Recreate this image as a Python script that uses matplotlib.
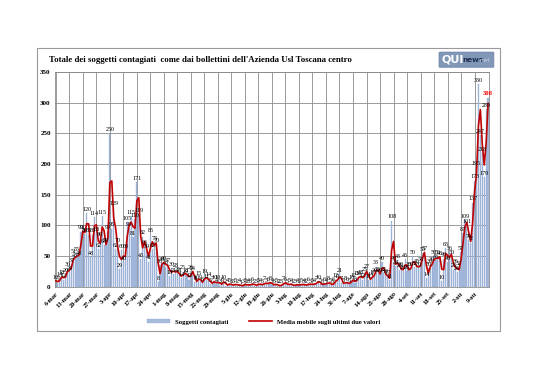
import matplotlib
matplotlib.use("Agg")
import matplotlib.pyplot as plt
import numpy as np
import pandas as pd
from matplotlib.patches import Rectangle, FancyBboxPatch

# nuovi contagiati giornalieri dal 6 marzo
contagiati = [
    10, 7, 14, 18, 12, 20, 30, 24, 37, 51, 45, 55, 48, 90, 91, 86, 120, 85, 48, 85, 114, 88, 62, 80, 115, 68,
    70, 90, 250, 95, 129, 62, 70, 29, 60, 40, 60, 105, 96, 115, 81, 110, 171, 119, 45, 82, 66, 59, 41, 85, 62, 73, 70,
    8, 35, 39, 40, 33, 37, 18, 30, 21, 28, 22, 21, 14, 25, 19, 21, 12, 26, 24, 8, 10, 15, 9, 6, 19, 11, 14, 5, 7,
    10, 4, 10, 3, 6, 10, 2, 4, 5, 3,
    3, 5, 2, 4, 1, 3, 5, 2, 4, 3, 6, 2, 3, 5, 4, 3, 7, 5, 6, 8, 4, 3, 5, 2, 2, 3, 7, 6, 3, 5, 4, 2, 3, 4, 2, 5,
    3, 4, 2, 6, 3, 5, 4,
    7, 10, 5, 3, 6, 4, 8, 5, 3, 6, 12, 11, 21, 7, 5, 8, 6, 5, 10, 12, 6, 15, 16, 18, 12, 23, 27, 11, 14, 17, 20,
    33, 22, 20, 40, 22, 19, 17, 11,
    108, 40, 34, 43, 28, 30, 26, 45, 26, 30, 30, 50, 32, 35, 30, 38, 55, 57, 14, 30, 35, 39, 50, 43, 50, 48, 10,
    46, 63, 40, 56, 50, 28, 36, 24, 32, 57, 87, 109, 101, 76, 72,
    137, 173, 195, 330, 247, 218, 179, 289, 308,
]
mesi = {3: "mar", 4: "apr", 5: "mag", 6: "giu", 7: "lug", 8: "ago", 9: "set", 10: "ott"}
titolo = "Totale dei soggetti contagiati  come dai bollettini dell'Azienda Usl Toscana centro"

v = np.array(contagiati)
n = len(v)
date = pd.date_range("2020-03-06", periods=n, freq="D")
media = pd.Series(v).rolling(2, min_periods=1).mean()

serif = "Liberation Serif"
fig = plt.figure(figsize=(5.38, 3.8), dpi=100)
fig.patches.append(Rectangle((0.069, 0.129), 0.86, 0.745, transform=fig.transFigure,
                             fill=False, edgecolor="#9a9a9a", linewidth=0.8))

ax = fig.add_axes([0.102, 0.245, 0.807, 0.566])
x = np.arange(n)
barre = ax.bar(x, v, width=0.6, color="#a7bbdd", edgecolor="#8aa2cc", linewidth=0.2,
               label="Soggetti contagiati", zorder=2)
linea, = ax.plot(x, media, color="#c00000", linewidth=1.2,
                 label="Media mobile sugli ultimi due valori", zorder=3)

for i, val in enumerate(v):
    if i == n - 1:
        ax.text(i, val + 2, str(val), ha="center", va="bottom", fontsize=4.8,
                family=serif, color="red", fontweight="bold", zorder=4)
    else:
        ax.text(i, val + 2, str(val), ha="center", va="bottom", fontsize=4.3,
                family=serif, color="black", zorder=4)

ticks = np.arange(0, n - 1, 7)
ax.set_xticks(ticks)
ax.set_xticklabels([f"{date[t].day}-{mesi[date[t].month]}" for t in ticks],
                   rotation=45, ha="right", rotation_mode="anchor",
                   fontsize=4.6, family=serif, fontweight="bold")
ax.set_xlim(-0.5, n - 0.5)
ax.set_ylim(0, 350)
ax.set_yticks(np.arange(0, 351, 50))
for t in ax.get_yticklabels():
    t.set_family(serif)
    t.set_fontweight("bold")
    t.set_fontsize(5)
ax.tick_params(length=0, pad=3)
ax.grid(True, color="#8a8a8a", linewidth=0.6, zorder=0)
ax.set_axisbelow(True)
for s in ax.spines.values():
    s.set_color("#8a8a8a")
    s.set_linewidth(0.6)

fig.text(0.091, 0.842, titolo, fontsize=6.3, family=serif, fontweight="bold", va="center")

# logo
fig.patches.append(FancyBboxPatch((0.818, 0.825), 0.098, 0.036, boxstyle="round,pad=0.002",
                                  transform=fig.transFigure, facecolor="#8197b8",
                                  edgecolor="#6b80a3", linewidth=0.5))
fig.text(0.821, 0.843, "QUI", fontsize=8, fontweight="bold", color="white",
         family="DejaVu Sans", va="center")
fig.text(0.859, 0.841, "news", fontsize=5.2, fontweight="bold", color="#1f2f55",
         family="DejaVu Sans", va="center")
fig.text(0.889, 0.841, ".net", fontsize=4.3, color="#c8d4e8", family="DejaVu Sans", va="center")

fig.legend(handles=[barre, linea], loc="center", bbox_to_anchor=(0.49, 0.153), ncol=2, frameon=False,
           prop={"family": serif, "weight": "bold", "size": 4.8},
           handlelength=3.5, handleheight=0.6, columnspacing=3)

fig.savefig("out.png", dpi=100)
